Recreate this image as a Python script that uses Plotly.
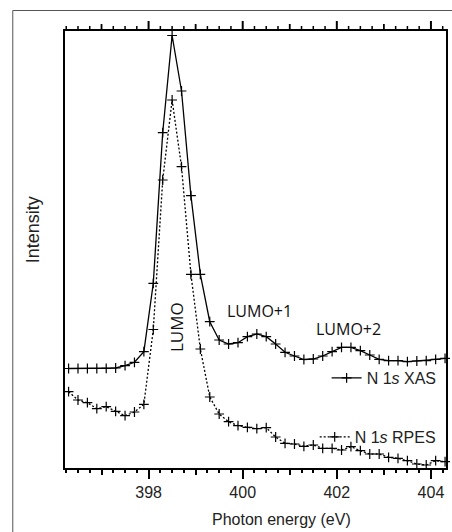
import plotly.graph_objects as go

# Photon energy grid (eV)
energy = [396.3, 396.5, 396.7, 396.9, 397.1, 397.3, 397.5, 397.7, 397.9, 398.1,
          398.3, 398.5, 398.7, 398.9, 399.1, 399.3, 399.5, 399.7, 399.9, 400.1,
          400.3, 400.5, 400.7, 400.9, 401.1, 401.3, 401.5, 401.7, 401.9, 402.1,
          402.3, 402.5, 402.7, 402.9, 403.1, 403.3, 403.5, 403.7, 403.9, 404.1,
          404.3]

# N 1s XAS intensity (arb. units)
xas = [99.5, 99.5, 99.5, 99.5, 99.7, 100.0, 102.3, 105.7, 116.3, 184.7,
       335.3, 432.5, 377.0, 272.3, 193.7, 146.3, 128.0, 124.0, 125.3, 131.3,
       134.0, 131.3, 124.0, 115.7, 112.0, 108.5, 109.0, 112.0, 116.3, 120.7,
       120.7, 117.3, 113.0, 108.7, 107.3, 107.3, 106.3, 107.0, 107.3, 108.7,
       109.7]

# N 1s RPES intensity (arb. units)
rpes = [76.3, 68.0, 65.3, 59.3, 61.3, 56.7, 52.3, 56.0, 63.7, 138.5,
        288.0, 368.0, 301.3, 193.7, 119.0, 71.0, 54.0, 46.3, 42.3, 40.7,
        39.3, 40.3, 31.0, 24.7, 24.0, 21.7, 23.0, 19.7, 19.7, 18.0,
        21.3, 17.3, 14.0, 14.0, 10.7, 9.7, 7.3, 4.0, 3.0, 7.3,
        6.3]

x_range = [396.224, 404.32]
y_range = [0, 437]
major_ticks = [398, 400, 402, 404]
major_labels = ["398", "400", "402", "404"]
mid_ticks = [397, 399, 401, 403]
minor_ticks = [396 + 0.25 * i for i in range(1, 34) if (i % 4) != 0]

peak_labels = ["LUMO", "LUMO+1", "LUMO+2"]
peak_x = [398.585, 400.35, 402.25]
peak_y = [141, 157, 139]
peak_angle = [-90, 0, 0]
peak_size = [17, 16, 16]

FONT = "Liberation Sans, Arial, sans-serif"
PLOT_H = 437.0

fig = go.Figure()
fig.add_trace(go.Scatter(
    x=energy, y=xas, mode="lines+markers", name="N 1<i>s</i> XAS",
    line=dict(color="black", width=1.3),
    marker=dict(symbol="cross-thin", size=7, line=dict(color="black", width=1.2)),
    cliponaxis=False, legend="legend"))
fig.add_trace(go.Scatter(
    x=energy, y=rpes, mode="lines+markers", name="N 1<i>s</i> RPES",
    line=dict(color="black", width=1.3, dash="2px,2px"),
    marker=dict(symbol="cross-thin", size=7, line=dict(color="black", width=1.2)),
    cliponaxis=False, legend="legend2"))

# empty helper traces so that the tick-only overlay axes get drawn
for ax in ["x2", "x3"]:
    fig.add_trace(go.Scatter(x=[], y=[], xaxis=ax, yaxis="y", mode="markers",
                             showlegend=False, hoverinfo="skip"))

for t, xx, yy, a, s in zip(peak_labels, peak_x, peak_y, peak_angle, peak_size):
    fig.add_annotation(x=xx, y=yy, xref="x", yref="y", text=t, showarrow=False,
                       xanchor="center", yanchor="middle",
                       textangle=a, font=dict(family="Open Sans", size=s, color="#111"))

def px2x(p):
    return (p - 65) / 383.0

def px2y(p):
    return (468 - p) / PLOT_H

def val2paper(v):
    return (v - x_range[0]) / (x_range[1] - x_range[0])

fig.add_annotation(x=px2x(33), y=px2y(230), xref="paper", yref="paper", text="Intensity",
                   xanchor="center", yanchor="middle",
                   textangle=-90, showarrow=False, font=dict(family=FONT, size=18, color="#222"))
fig.add_annotation(x=px2x(283), y=px2y(519), xref="paper", yref="paper", text="Photon energy (eV)",
                   xanchor="center", yanchor="middle",
                   showarrow=False, font=dict(family=FONT, size=16, color="#222"))

# outer frame
fig.add_shape(type="rect", xref="paper", yref="paper",
              x0=px2x(12.5), x1=px2x(470), y0=px2y(10.5), y1=px2y(560),
              line=dict(color="#555", width=1), fillcolor="rgba(0,0,0,0)", layer="above")

# top-edge tick marks (mirror of the bottom axis ticks), paper-referenced so they are not clipped
for vals, length, width in [(major_ticks, 9, 2), (mid_ticks, 6, 1.8), (minor_ticks, 4, 1.5)]:
    for v in vals:
        xp = val2paper(v)
        fig.add_shape(type="line", xref="paper", yref="paper", x0=xp, x1=xp,
                      y0=1 + 1 / PLOT_H, y1=1 + (1 + length) / PLOT_H,
                      line=dict(color="black", width=width), layer="above")

def tick_axis(vals, length, width, side):
    return dict(range=x_range, overlaying="x", anchor="y", side=side,
                tickmode="array", tickvals=vals, ticks="outside", ticklen=length,
                tickwidth=width, tickcolor="black", showticklabels=False,
                showline=False, showgrid=False, zeroline=False)

fig.update_layout(
    width=452, height=532, autosize=False,
    margin=dict(l=65, r=4, t=31, b=64),
    paper_bgcolor="white", plot_bgcolor="white",
    font=dict(family=FONT, size=16, color="#222"),
    xaxis=dict(range=x_range, tickmode="array", tickvals=major_ticks, ticktext=major_labels,
               ticks="outside", ticklen=9, tickwidth=2, tickcolor="black",
               showline=True, linewidth=2, linecolor="black", mirror=True,
               showgrid=False, zeroline=False,
               tickfont=dict(family=FONT, size=16, color="#222")),
    xaxis2=tick_axis(mid_ticks, 6, 1.8, "bottom"),
    xaxis3=tick_axis(minor_ticks, 4, 1.5, "bottom"),
    yaxis=dict(range=y_range, showline=True, linewidth=2, linecolor="black", mirror=True,
               showticklabels=False, ticks="", showgrid=False, zeroline=False),
    legend=dict(x=px2x(328), y=px2y(378), xanchor="left", yanchor="middle",
                bgcolor="rgba(0,0,0,0)", font=dict(family=FONT, size=16, color="#222"),
                itemwidth=30, borderwidth=0),
    legend2=dict(x=px2x(316), y=px2y(437), xanchor="left", yanchor="middle",
                 bgcolor="rgba(0,0,0,0)", font=dict(family=FONT, size=16, color="#222"),
                 itemwidth=30, borderwidth=0),
    showlegend=True,
)

fig.write_html("out.html")
